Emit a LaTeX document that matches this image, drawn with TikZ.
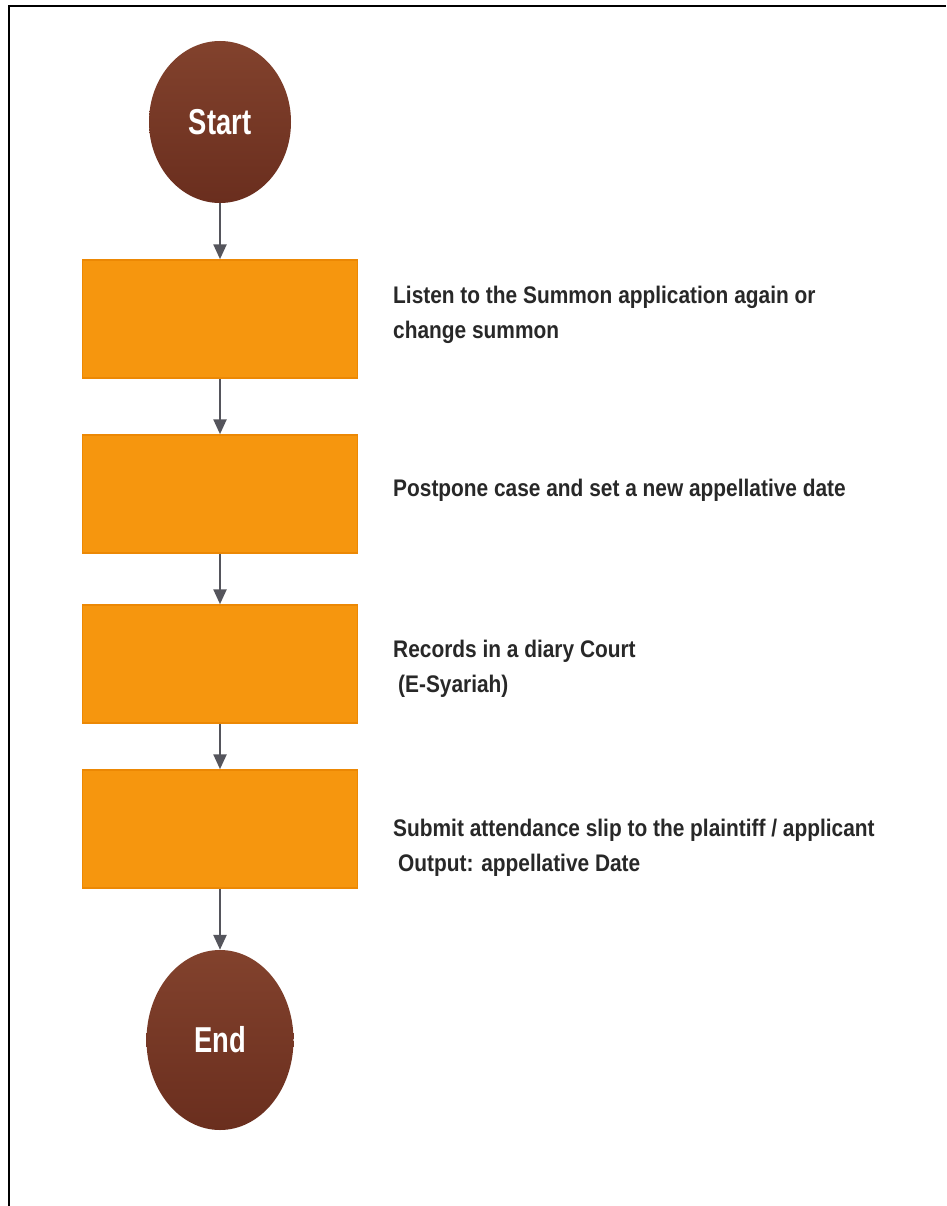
\documentclass[tikz,border=0pt]{standalone}
\usepackage{fontspec}
\setmainfont[FakeStretch=0.87]{Liberation Sans}
\newfontfamily\circfont[FakeStretch=0.76]{Liberation Sans}
\usetikzlibrary{shapes.geometric,arrows.meta}
\definecolor{browntop}{RGB}{130,66,45}
\definecolor{brownbot}{RGB}{106,46,30}
\definecolor{orangefill}{RGB}{246,150,14}
\definecolor{orangeedge}{RGB}{236,136,4}
\definecolor{arrowgray}{RGB}{85,85,92}
\definecolor{txtgray}{RGB}{40,40,40}
\tikzset{
  term/.style={ellipse, inner sep=0pt, top color=browntop, bottom color=brownbot,
    text=white, font=\circfont\bfseries\fontsize{36}{40}\selectfont},
  stepbox/.style={rectangle, minimum width=275pt, minimum height=118pt, inner sep=0pt,
    fill=orangefill, draw=orangeedge, line width=1.5pt},
  desc/.style={anchor=west, align=left, text=txtgray, inner sep=0pt,
    font=\bfseries\fontsize{24}{35}\selectfont},
  flow/.style={draw=arrowgray, line width=2.5pt, -{Triangle[width=13pt,length=15pt]}},
  frame/.style={draw=black, line width=2pt}
}
\begin{document}
\begin{tikzpicture}[x=1pt,y=-1pt]
\useasboundingbox (0,0) rectangle (946,1206);
\fill[white] (0,0) rectangle (946,1206);
\draw[frame] (9,1206) -- (9,6) -- (946,6);

\node[term, minimum width=142pt, minimum height=162pt] (start) at (220,122) {Start};
\node[stepbox] (b1) at (220,319) {};
\node[stepbox] (b2) at (220,494) {};
\node[stepbox] (b3) at (220,664) {};
\node[stepbox] (b4) at (220,829) {};
\node[term, minimum width=147pt, minimum height=180pt] (end) at (220,1040) {End};

\node[desc] (t1) at (393,315) {Listen to the Summon application again or\\change summon};
\node[desc] (t2) at (393,490) {Postpone case and set a new appellative date};
\node[desc] (t3) at (393,669) {Records in a diary Court\\\hspace{5pt}(E-Syariah)};
\node[desc] (t4) at (393,848) {Submit attendance slip to the plaintiff / applicant\\\hspace{5pt}Output: appellative Date};

\draw[flow] (start.south) -- (b1.north);
\draw[flow] (b1.south) -- (b2.north);
\draw[flow] (b2.south) -- (b3.north);
\draw[flow] (b3.south) -- (b4.north);
\draw[flow] (b4.south) -- (end.north);
\end{tikzpicture}
\end{document}
